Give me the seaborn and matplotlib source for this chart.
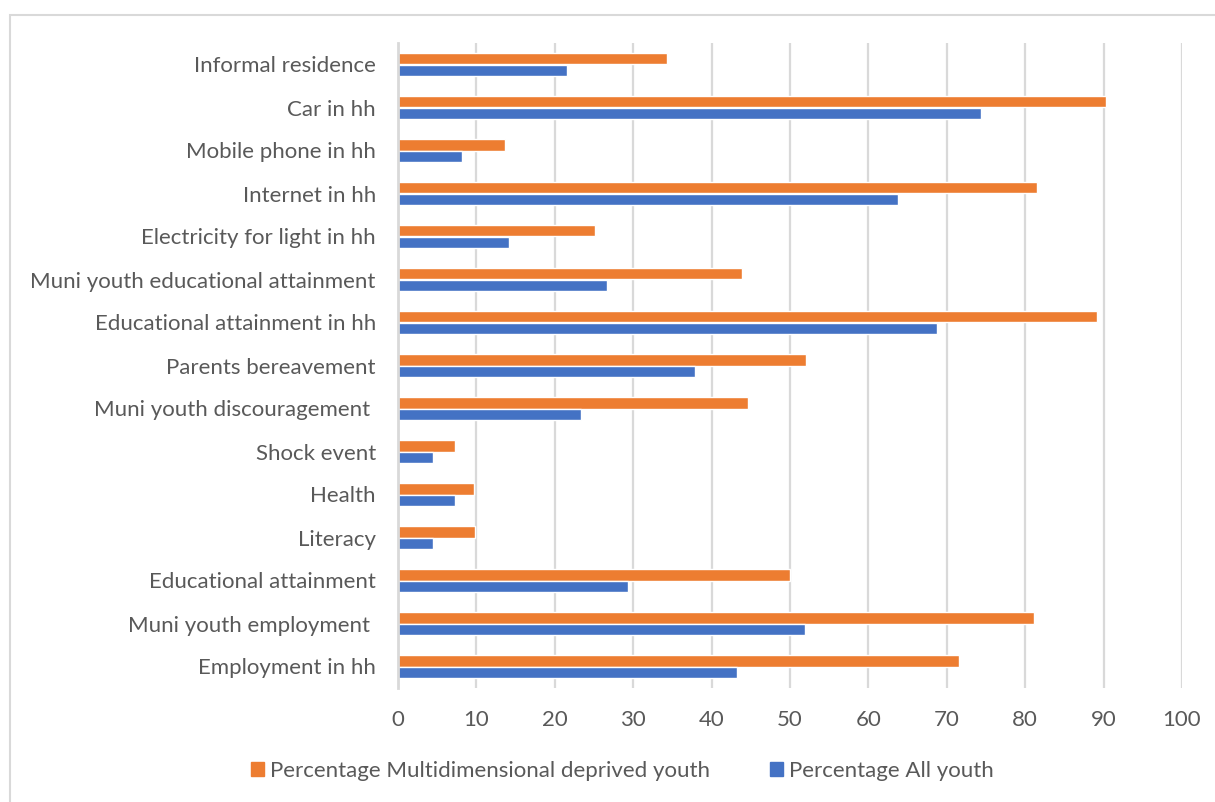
import matplotlib
matplotlib.use("Agg")
import matplotlib.pyplot as plt
import seaborn as sns
import pandas as pd
from matplotlib.patches import Rectangle

categories = [
    "Informal residence",
    "Car in hh",
    "Mobile phone in hh",
    "Internet in hh",
    "Electricity for light in hh",
    "Muni youth educational attainment",
    "Educational attainment in hh",
    "Parents bereavement",
    "Muni youth discouragement ",
    "Shock event",
    "Health",
    "Literacy",
    "Educational attainment",
    "Muni youth employment ",
    "Employment in hh",
]
deprived = [34.3, 90.3, 13.7, 81.5, 25.1, 43.9, 89.2, 52.0, 44.7, 7.3, 9.7, 9.8, 50.0, 81.1, 71.5]
all_youth = [21.6, 74.4, 8.2, 63.8, 14.2, 26.7, 68.7, 37.9, 23.3, 4.5, 7.3, 4.5, 29.4, 51.9, 43.3]
series_names = ["Percentage Multidimensional deprived youth", "Percentage All youth"]
xticks = [0, 10, 20, 30, 40, 50, 60, 70, 80, 90, 100]

df = pd.DataFrame({
    "category": categories * 2,
    "value": deprived + all_youth,
    "series": [series_names[0]] * len(categories) + [series_names[1]] * len(categories),
})

sns.set_theme(style="white")
plt.rcParams["font.family"] = ["Lato", "DejaVu Sans"]

fig = plt.figure(figsize=(12.15, 8.02), dpi=100)
ax = fig.add_axes([398 / 1215, 1 - 688 / 802, (1182 - 398) / 1215, (688 - 43) / 802])

palette = {series_names[0]: "#ED7D31", series_names[1]: "#4472C4"}
sns.barplot(data=df, y="category", x="value", hue="series", order=categories,
            hue_order=series_names, palette=palette, orient="h", width=0.54,
            saturation=1, ax=ax, legend=False, zorder=3)

ax.set_xlim(0, 100)
ax.set_ylim(len(categories) - 0.5, -0.5)
ax.set_xticks(xticks)
ax.set_xticklabels([str(t) for t in xticks])
ax.xaxis.grid(True, color="#D9D9D9", linewidth=1.6, zorder=0)
ax.yaxis.grid(False)
ax.set_axisbelow(True)
for s in ["top", "right", "bottom"]:
    ax.spines[s].set_visible(False)
ax.spines["left"].set_color("#D9D9D9")
ax.spines["left"].set_linewidth(2)
ax.spines["left"].set_zorder(4)
ax.tick_params(axis="y", length=0, pad=16, labelsize=16, labelcolor="#595959")
ax.tick_params(axis="x", length=0, pad=16, labelsize=16, labelcolor="#595959")
ax.set_xlabel("")
ax.set_ylabel("")

handles = [Rectangle((0, 0), 1, 1, color=palette[n]) for n in series_names]
fig.legend(handles, series_names, loc="center", bbox_to_anchor=(622 / 1215, 1 - 771 / 802),
           ncol=2, frameon=False, fontsize=16, labelcolor="#595959",
           handlelength=0.6, handleheight=0.6, handletextpad=0.25, columnspacing=2.7)

fig.patches.append(Rectangle((10 / 1215, -0.05), 1.1, 1 - 15 / 802 + 0.05, transform=fig.transFigure,
                             fill=False, edgecolor="#D9D9D9", linewidth=1.5, figure=fig))

fig.savefig("out.png", dpi=100)
